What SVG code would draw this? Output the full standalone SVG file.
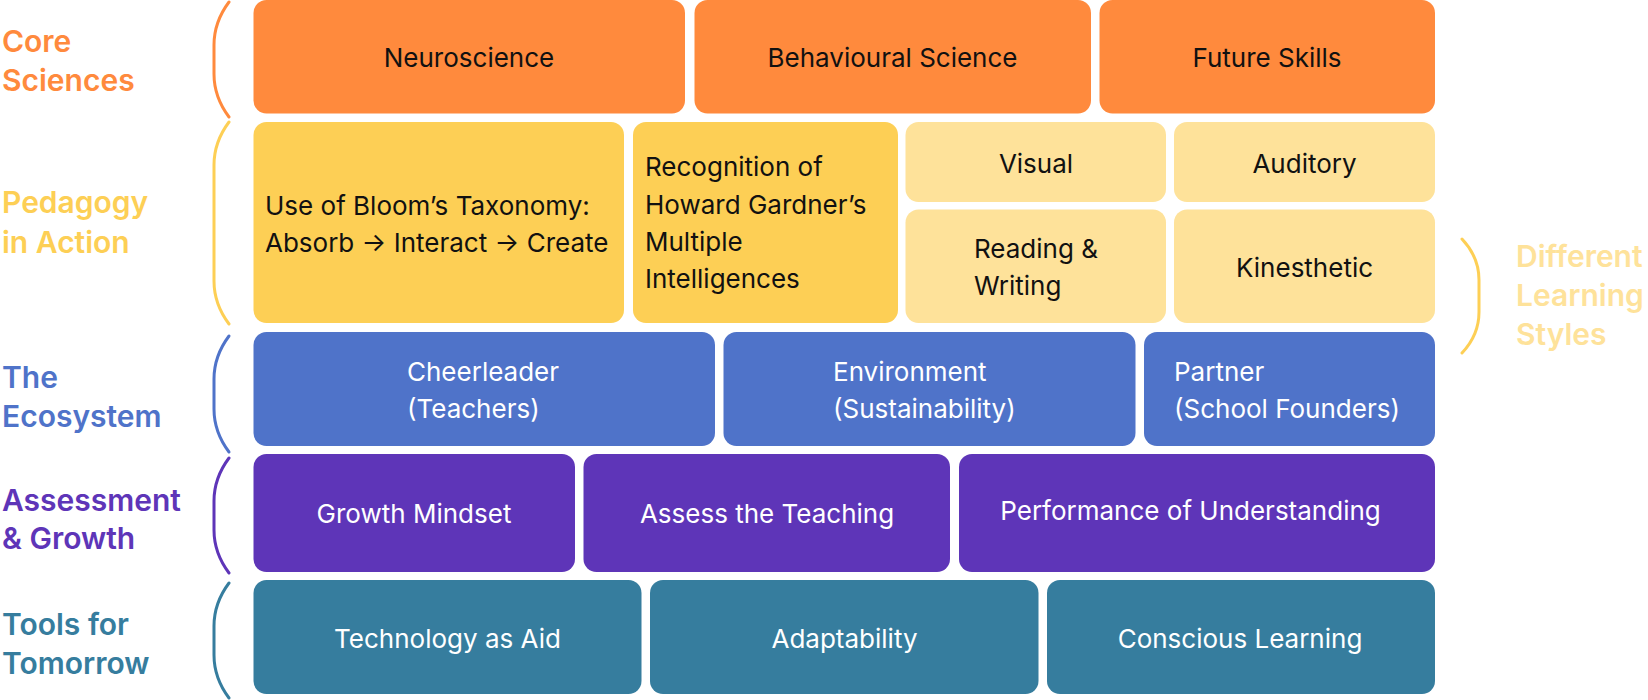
<svg xmlns="http://www.w3.org/2000/svg" width="1648" height="700" viewBox="0 0 1648 700">
<style>
.lbl{font-family:Inter,"Noto Sans",sans-serif;font-weight:600;font-size:30px}
.t{font-family:Inter,"Noto Sans",sans-serif;font-weight:400;font-size:26px}
.c{text-anchor:middle}
.dk{fill:#111111}
.wh{fill:#ffffff}
.br{fill:none;stroke-width:3;stroke-linecap:round}
.or{fill:#FF8A3D}.ye{fill:#FDCF55}.ly{fill:#FEE29A}.bl{fill:#4F73C9}.pu{fill:#5E35B8}.te{fill:#367D9E}
</style>
<rect width="1648" height="700" fill="#ffffff"/>
<g id="labels">
<text class="lbl or" x="2" y="52">Core</text>
<text class="lbl or" x="2" y="91">Sciences</text>
<text class="lbl ye" x="2" y="213">Pedagogy</text>
<text class="lbl ye" x="2" y="253">in Action</text>
<text class="lbl bl" x="2" y="388">The</text>
<text class="lbl bl" x="2" y="427">Ecosystem</text>
<text class="lbl pu" x="2" y="511">Assessment</text>
<text class="lbl pu" x="2" y="549">&amp; Growth</text>
<text class="lbl te" x="2" y="635">Tools for</text>
<text class="lbl te" x="2" y="674">Tomorrow</text>
<text class="lbl ly" x="1516" y="267">Different</text>
<text class="lbl ly" x="1516" y="306">Learning</text>
<text class="lbl ly" x="1516" y="345">Styles</text>
</g>
<g id="brackets">
<path class="br" stroke="#FF8A3D" d="M229,2 Q214,22 214,45 V74 Q214,97 229,117"/>
<path class="br" stroke="#FDCF55" d="M229,122 Q214,142 214,165 V281 Q214,304 229,324"/>
<path class="br" stroke="#4F73C9" d="M229,336 Q214,356 214,379 V409 Q214,432 229,452"/>
<path class="br" stroke="#5E35B8" d="M229,458 Q214,478 214,501 V530 Q214,553 229,573"/>
<path class="br" stroke="#367D9E" d="M229,583 Q214,603 214,626 V655 Q214,678 229,698"/>
<path class="br" stroke="#FDCF55" d="M1462,239 Q1479,257 1479,280 V312 Q1479,335 1462,353"/>
</g>
<g id="neuroscience"><rect class="or" x="253.5" y="0" width="431.5" height="113.5" rx="13"/><text class="t dk c" x="469" y="67">Neuroscience</text></g>
<g id="behavioural"><rect class="or" x="694.5" y="0" width="396.5" height="113.5" rx="13"/><text class="t dk c" x="892.5" y="67">Behavioural Science</text></g>
<g id="future"><rect class="or" x="1099.5" y="0" width="335.5" height="113.5" rx="13"/><text class="t dk c" x="1267" y="67">Future Skills</text></g>

<g id="bloom"><rect class="ye" x="253.5" y="122" width="370.5" height="201" rx="13"/><text class="t dk" x="265" y="215">Use of Bloom’s Taxonomy:</text><text class="t dk" x="265" y="252">Absorb → Interact → Create</text></g>
<g id="gardner"><rect class="ye" x="633" y="122" width="265" height="201" rx="13"/><text class="t dk" x="645" y="176">Recognition of</text><text class="t dk" x="645" y="214">Howard Gardner’s</text><text class="t dk" x="645" y="251">Multiple</text><text class="t dk" x="645" y="288">Intelligences</text></g>
<g id="visual"><rect class="ly" x="905.5" y="122" width="260.5" height="80" rx="13"/><text class="t dk c" x="1036" y="173">Visual</text></g>
<g id="auditory"><rect class="ly" x="1174" y="122" width="261" height="80" rx="13"/><text class="t dk c" x="1304.5" y="173">Auditory</text></g>
<g id="reading"><rect class="ly" x="905.5" y="209.5" width="260.5" height="113.5" rx="13"/><text class="t dk" x="974" y="258">Reading &amp;</text><text class="t dk" x="974" y="295">Writing</text></g>
<g id="kinesthetic"><rect class="ly" x="1174" y="209.5" width="261" height="113.5" rx="13"/><text class="t dk c" x="1304.5" y="277">Kinesthetic</text></g>

<g id="cheerleader"><rect class="bl" x="253.5" y="332" width="461.5" height="114" rx="13"/><text class="t wh" x="407" y="381">Cheerleader</text><text class="t wh" x="407" y="418">(Teachers)</text></g>
<g id="environment"><rect class="bl" x="723.5" y="332" width="412" height="114" rx="13"/><text class="t wh" x="833" y="381">Environment</text><text class="t wh" x="833" y="418">(Sustainability)</text></g>
<g id="partner"><rect class="bl" x="1144" y="332" width="291" height="114" rx="13"/><text class="t wh" x="1174" y="381">Partner</text><text class="t wh" x="1174" y="418">(School Founders)</text></g>

<g id="growth"><rect class="pu" x="253.5" y="454" width="321.5" height="118" rx="13"/><text class="t wh c" x="414" y="523">Growth Mindset</text></g>
<g id="assess"><rect class="pu" x="583.5" y="454" width="366.5" height="118" rx="13"/><text class="t wh c" x="767" y="523">Assess the Teaching</text></g>
<g id="performance"><rect class="pu" x="959" y="454" width="476" height="118" rx="13"/><text class="t wh c" x="1190.5" y="520">Performance of Understanding</text></g>

<g id="technology"><rect class="te" x="253.5" y="580" width="388" height="114" rx="13"/><text class="t wh c" x="447.5" y="648">Technology as Aid</text></g>
<g id="adaptability"><rect class="te" x="650" y="580" width="388.5" height="114" rx="13"/><text class="t wh c" x="844.5" y="648">Adaptability</text></g>
<g id="conscious"><rect class="te" x="1047" y="580" width="388" height="114" rx="13"/><text class="t wh c" x="1240" y="648">Conscious Learning</text></g>
</svg>
